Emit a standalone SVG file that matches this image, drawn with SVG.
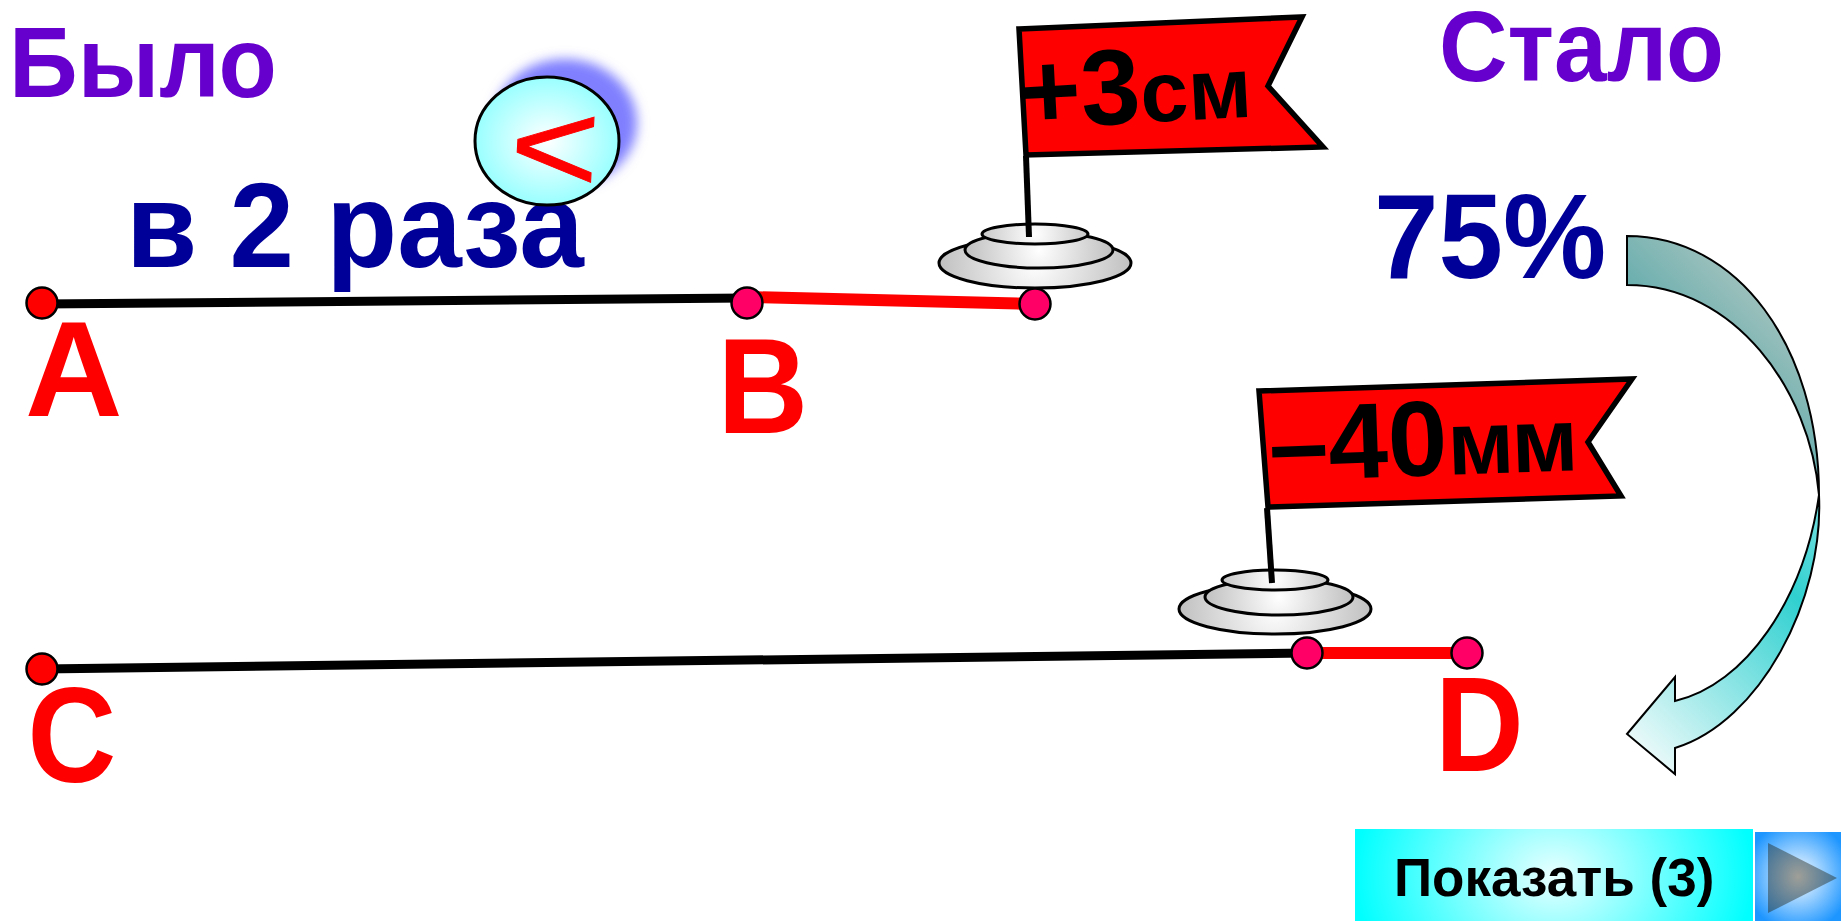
<svg xmlns="http://www.w3.org/2000/svg" width="1841" height="921" viewBox="0 0 1841 921">
<style>
text{font-family:"Liberation Sans",Arial,sans-serif;font-weight:700}
.title{font-size:100px;fill:#6600cc}
.blue{font-size:120px;fill:#000099}
.letter{font-size:135px;fill:#ff0000}
.flag{fill:#ff0000;stroke:#000;stroke-width:5.5;stroke-linejoin:miter}
.pole{stroke:#000;stroke-width:6;fill:none}
.base{stroke:#000;stroke-width:3}
.flagtext{font-size:107px;fill:#000}
.small{font-size:86px}
.small2{font-size:90px;letter-spacing:-2.5px}
.end{fill:#ff0000;stroke:#000;stroke-width:2.5}
.mid{fill:#ff0066;stroke:#000;stroke-width:2.5}
.black{stroke:#000;stroke-width:9;fill:none}
.red{stroke:#ff0000;stroke-width:12;fill:none}
.arrow{stroke:#000;stroke-width:2}
</style>
<defs>
<radialGradient id="silverL" gradientUnits="userSpaceOnUse" cx="0" cy="0" r="96"><stop offset="0" stop-color="#ffffff"/><stop offset="1" stop-color="#c0c0c0"/></radialGradient>
<radialGradient id="silverM" gradientUnits="userSpaceOnUse" cx="0" cy="0" r="74"><stop offset="0" stop-color="#ffffff"/><stop offset="1" stop-color="#c0c0c0"/></radialGradient>
<radialGradient id="silverS" gradientUnits="userSpaceOnUse" cx="0" cy="0" r="53"><stop offset="0" stop-color="#ffffff"/><stop offset="1" stop-color="#c8c8c8"/></radialGradient>
<radialGradient id="bubble"><stop offset="0" stop-color="#ffffff"/><stop offset="1" stop-color="#99ffff"/></radialGradient>
<radialGradient id="cyanbtn" gradientUnits="userSpaceOnUse" cx="1554" cy="875" r="200" gradientTransform="translate(1554 875) scale(1 .8) translate(-1554 -875)"><stop offset="0" stop-color="#e8ffff"/><stop offset="1" stop-color="#00ffff"/></radialGradient>
<radialGradient id="bluebtn" cx=".5" cy=".5" r=".62"><stop offset="0" stop-color="#ffffff"/><stop offset="1" stop-color="#1e96ff"/></radialGradient>
<linearGradient id="upper" gradientUnits="userSpaceOnUse" x1="1670" y1="330" x2="1730" y2="270"><stop offset="0" stop-color="#68aeae"/><stop offset="1" stop-color="#9cc0bc"/></linearGradient>
<linearGradient id="lower" gradientUnits="userSpaceOnUse" x1="1600" y1="705" x2="1797.5" y2="507.5"><stop offset="0" stop-color="#e8f9f9"/><stop offset=".77" stop-color="#30d0d0"/><stop offset="1" stop-color="#66dcdc"/></linearGradient>
<filter id="blur" x="-30%" y="-30%" width="160%" height="160%"><feGaussianBlur stdDeviation="6"/></filter>
</defs>
<rect width="1841" height="921" fill="#ffffff"/>

<g id="titles">
<text class="title" transform="translate(9 97) scale(.955 1)">Было</text>
<text class="title" transform="translate(1439 81) scale(.95 1)">Стало</text>
</g>

<g id="ratio-text"><text class="blue" transform="translate(126 267) scale(.967 1)">в 2 раза</text></g>
<g id="percent-text"><text class="blue" transform="translate(1374 278) scale(.967 1)">75%</text></g>

<g id="bubble-node">
<ellipse cx="565" cy="123" rx="72" ry="64" fill="#8080ff" filter="url(#blur)"/>
<ellipse cx="547" cy="141" rx="72" ry="64" fill="url(#bubble)" stroke="#000" stroke-width="3"/>
<text x="0" y="47" text-anchor="middle" transform="translate(555 147) rotate(3) scale(1.1 .92)" style="font-weight:400;font-size:140px;fill:#ff0000;stroke:#ff0000;stroke-width:1">&lt;</text>
</g>

<g id="connectors">
<path class="black" d="M42 304L747 298"/>
<path class="red" d="M747 297L1035 304"/>
<path class="black" d="M42 669L1307 653"/>
<path class="red" d="M1307 653H1467"/>
</g>

<g id="flag-top">
<ellipse class="base" fill="url(#silverL)" transform="translate(1035 263)" rx="96" ry="25"/>
<ellipse class="base" fill="url(#silverM)" transform="translate(1039 250)" rx="74" ry="18"/>
<ellipse class="base" fill="url(#silverS)" transform="translate(1035 234)" rx="53" ry="10"/>
<path class="pole" d="M1026 156L1029 237"/>
<path class="flag" d="M1019 29L1302 17L1268 86L1323 147L1026 155Z"/>
<text class="flagtext" x="1020" y="129" transform="rotate(-3 1020 129)">+3<tspan class="small">см</tspan></text>
</g>

<g id="flag-bottom">
<ellipse class="base" fill="url(#silverL)" transform="translate(1275 609)" rx="96" ry="25"/>
<ellipse class="base" fill="url(#silverM)" transform="translate(1279 597)" rx="74" ry="18"/>
<ellipse class="base" fill="url(#silverS)" transform="translate(1275 580)" rx="53" ry="10"/>
<path class="pole" d="M1267 508L1272 583"/>
<path class="flag" d="M1259 391L1632 379L1588 442L1621 496L1268 507Z"/>
<text class="flagtext" x="1270" y="481" transform="rotate(-2 1270 481)">–40<tspan class="small2">мм</tspan></text>
</g>

<g id="point-A"><circle class="end" cx="42" cy="303" r="15.5"/><text class="letter" x="25" y="416">A</text></g>
<g id="point-B"><circle class="mid" cx="747" cy="303" r="15.5"/><text class="letter" transform="translate(717.5 433) scale(.93 1)">B</text></g>
<g id="point-B2"><circle class="mid" cx="1035" cy="304" r="15.5"/></g>
<g id="point-C"><circle class="end" cx="42" cy="669" r="15.5"/><text class="letter" transform="translate(27.5 782) scale(.91 1)">C</text></g>
<g id="point-D2"><circle class="mid" cx="1307" cy="653" r="15.5"/></g>
<g id="point-D"><circle class="mid" cx="1467" cy="653" r="15.5"/><text class="letter" transform="translate(1435 771) scale(.91 1)">D</text></g>

<g id="curved-arrow">
<path class="arrow" fill="url(#upper)" d="M1627 236C1737 236 1819 345 1819 495C1810 390 1735 285 1627 285Z"/>
<path class="arrow" fill="url(#lower)" d="M1819 495C1824 600 1760 722 1675 748V774L1627 734L1675 677V701C1745 685 1804 600 1819 495Z"/>
</g>

<g id="show-button">
<rect x="1355" y="829" width="398" height="92" fill="url(#cyanbtn)"/>
<text x="1394" y="896" style="font-size:53px;fill:#000">Показать (3)</text>
</g>
<g id="next-button">
<rect x="1755" y="832" width="86" height="89" fill="url(#bluebtn)"/>
<path d="M1768 843L1837 878L1768 913Z" fill="#202010" fill-opacity=".43"/>
</g>
</svg>
